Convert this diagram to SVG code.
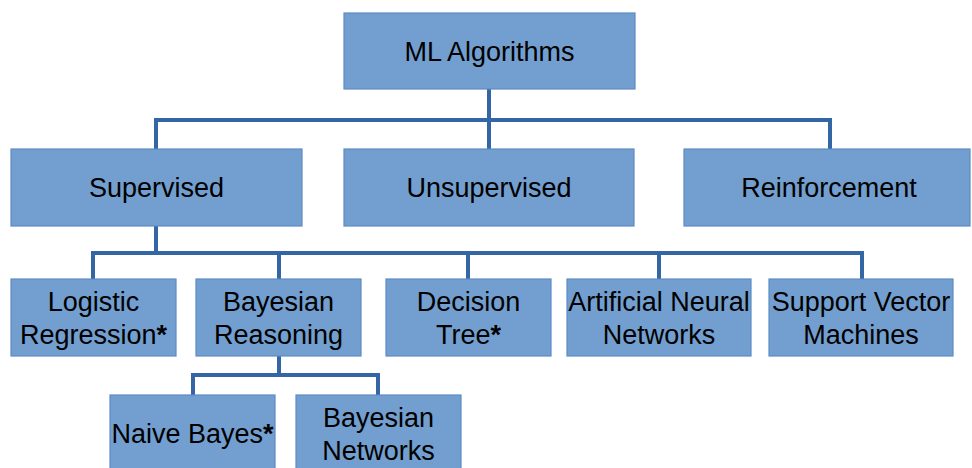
<svg xmlns="http://www.w3.org/2000/svg" width="972" height="468" viewBox="0 0 972 468">
  <style>
    .box { fill: #729fcf; stroke: #5d8cc6; stroke-width: 1.2; }
    .lbl { font-family: "Liberation Sans", Arial, sans-serif; font-size: 27px; fill: #000; text-anchor: middle; }
    .wire { fill: none; stroke: #3465a4; stroke-width: 4; stroke-linejoin: miter; }
  </style>
  <rect width="972" height="468" fill="#fff"/>

  <!-- tree connectors -->
  <g id="connectors">
    <path class="wire" d="M489 89 V150"/>
    <path class="wire" d="M156 149 V120 H830 V149"/>
    <path class="wire" d="M156 226 V253"/>
    <path class="wire" d="M93 279 V253 H862 V279"/>
    <path class="wire" d="M279 253 V279"/>
    <path class="wire" d="M468 253 V279"/>
    <path class="wire" d="M659 253 V279"/>
    <path class="wire" d="M279 356 V375"/>
    <path class="wire" d="M193 395 V375 H378 V395"/>
  </g>

  <!-- root -->
  <g id="ml-algorithms">
    <rect class="box" x="344" y="13" width="291" height="76"/>
    <text class="lbl" x="489.5" y="61">ML Algorithms</text>
  </g>

  <!-- learning paradigms -->
  <g id="supervised">
    <rect class="box" x="11" y="149" width="291" height="77"/>
    <text class="lbl" x="156.5" y="197">Supervised</text>
  </g>
  <g id="unsupervised">
    <rect class="box" x="344" y="149" width="290" height="77"/>
    <text class="lbl" x="489" y="197">Unsupervised</text>
  </g>
  <g id="reinforcement">
    <rect class="box" x="684" y="149" width="286" height="77"/>
    <text class="lbl" x="829" y="197">Reinforcement</text>
  </g>

  <!-- supervised methods -->
  <g id="logistic-regression">
    <rect class="box" x="11" y="279" width="165" height="77"/>
    <text class="lbl" x="93.5" y="310.5">Logistic</text>
    <text class="lbl" x="93.5" y="343.5">Regression<tspan font-weight="bold">*</tspan></text>
  </g>
  <g id="bayesian-reasoning">
    <rect class="box" x="196" y="279" width="165" height="77"/>
    <text class="lbl" x="278.5" y="310.5">Bayesian</text>
    <text class="lbl" x="278.5" y="343.5">Reasoning</text>
  </g>
  <g id="decision-tree">
    <rect class="box" x="386" y="279" width="165" height="77"/>
    <text class="lbl" x="468.5" y="310.5">Decision</text>
    <text class="lbl" x="468.5" y="343.5">Tree<tspan font-weight="bold">*</tspan></text>
  </g>
  <g id="artificial-neural-networks">
    <rect class="box" x="567" y="279" width="184" height="77"/>
    <text class="lbl" x="659" y="310.5">Artificial Neural</text>
    <text class="lbl" x="659" y="343.5">Networks</text>
  </g>
  <g id="support-vector-machines">
    <rect class="box" x="769" y="279" width="184" height="77"/>
    <text class="lbl" x="861" y="310.5">Support Vector</text>
    <text class="lbl" x="861" y="343.5">Machines</text>
  </g>

  <!-- bayesian methods -->
  <g id="naive-bayes">
    <rect class="box" x="110" y="395" width="165" height="77"/>
    <text class="lbl" x="192.5" y="443">Naive Bayes<tspan font-weight="bold">*</tspan></text>
  </g>
  <g id="bayesian-networks">
    <rect class="box" x="296" y="395" width="165" height="77"/>
    <text class="lbl" x="378.5" y="426.5">Bayesian</text>
    <text class="lbl" x="378.5" y="459.5">Networks</text>
  </g>
</svg>
